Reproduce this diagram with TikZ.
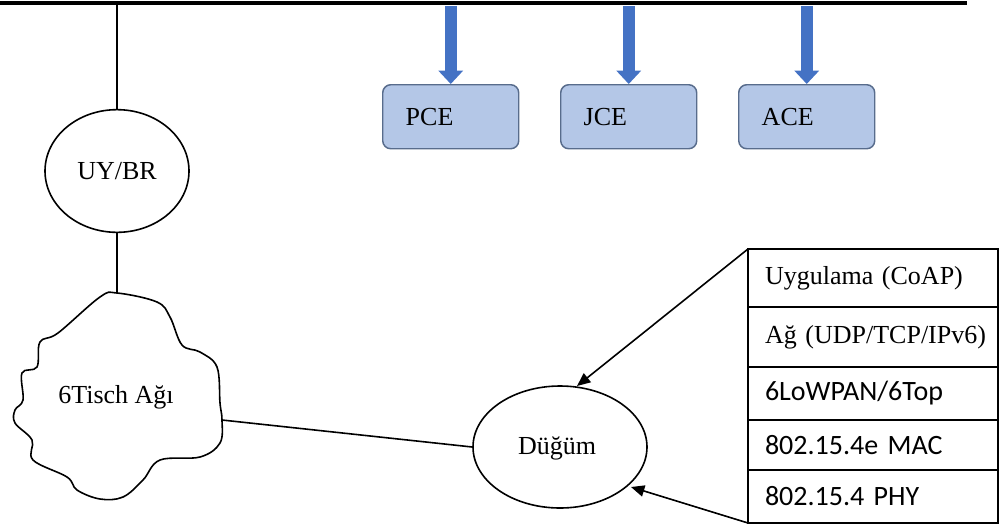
\documentclass[tikz,border=0pt]{standalone}
\usepackage{fontspec}
\setmainfont{Liberation Serif}
\newfontfamily\calfont{Carlito}
\usetikzlibrary{arrows.meta,shapes.geometric}
\definecolor{arrowblue}{RGB}{68,114,196}
\definecolor{boxfill}{RGB}{180,199,231}
\definecolor{boxedge}{RGB}{88,108,140}
\tikzset{
  px/.style={x=0.75pt,y=-0.75pt},
  ser/.style={font=\fontsize{19.5}{22}\selectfont},
  san/.style={font=\calfont\fontsize{21}{24}\selectfont},
  thin/.style={line width=1.2pt},
  oval/.style={ellipse,draw,thin,ser,inner sep=0pt},
  cebox/.style={draw=boxedge,fill=boxfill,line width=1.1pt,rounded corners=6pt,
    minimum height=48pt,text width=67.5pt,inner xsep=17.25pt,align=left,ser,anchor=north west},
  stackrow/.style={draw,line width=1.5pt,text width=162pt,inner xsep=12.75pt,
    align=left,anchor=north west,inner ysep=0pt,outer sep=0pt},
  bluearrow/.style={draw=arrowblue,line width=9pt,-{Triangle[length=10pt,width=18pt]}},
  tiparrow/.style={thin,-{Triangle[length=10pt,width=8.5pt]}}
}
\begin{document}
\begin{tikzpicture}[px]
\useasboundingbox (0,0) rectangle (999,529);
% bus
\coordinate (busL) at (0,3);
\coordinate (busR) at (967,3);
\draw[line width=3pt] (busL) -- (busR);
% CE boxes
\node[cebox] (pce) at (382,84) {PCE};
\node[cebox] (jce) at (560,84) {JCE};
\node[cebox] (ace) at (738,84) {ACE};
\coordinate (busP) at (pce.north |- 0,6);
\coordinate (busJ) at (jce.north |- 0,6);
\coordinate (busA) at (ace.north |- 0,6);
\draw[bluearrow] (busP) -- (pce.north);
\draw[bluearrow] (busJ) -- (jce.north);
\draw[bluearrow] (busA) -- (ace.north);
% UY/BR
\node[oval,minimum width=108pt,minimum height=92pt] (uybr) at (117,171) {UY/BR};
\coordinate (busU) at (uybr.north |- 0,4);
\draw[thin] (busU) -- (uybr.north);
% cloud
\draw[thin] plot[smooth cycle,tension=0.6] coordinates {
 (117,293) (157,302) (170,317) (182,345) (200,352) (217,367) (220,403)
 (222,420) (220,443) (200,457) (160,460) (143,480) (123,497) (100,499)
 (77,490) (67,477) (33,460) (32,440) (15,423) (15,410) (23,400)
 (22,373) (37,367) (40,342) (58,333) (100,297)};
\coordinate (cloudtop) at (117,293);
\coordinate (cloudright) at (222,420);
\node[ser] (cloud) at (116,397) {6Tisch Ağı};
\draw[thin] (uybr.south) -- (cloudtop);
% node
\node[oval,minimum width=130.5pt,minimum height=91.5pt] (dugum) at (560,447) {};
\node[ser] (dugumtext) at (557,448) {Düğüm};
\draw[thin] (cloudright) -- (dugum.west);
% stack
\node[stackrow,minimum height=43.5pt,ser] (r1) at (748,249) {\mbox{Uygulama (CoAP)}};
\node[stackrow,minimum height=45pt,ser] (r2) at (r1.south west) {\mbox{Ağ (UDP/TCP/IPv6)}};
\node[stackrow,minimum height=39.75pt,san] (r3) at (r2.south west) {\mbox{6LoWPAN/6Top}};
\node[stackrow,minimum height=37.5pt,san] (r4) at (r3.south west) {\mbox{802.15.4e MAC}};
\node[stackrow,minimum height=39.75pt,san] (r5) at (r4.south west) {\mbox{802.15.4 PHY}};
\coordinate (tipA) at (577,386);
\coordinate (tipB) at (631,487);
\draw[tiparrow] (r1.north west) -- (tipA);
\draw[tiparrow] (r5.south west) -- (tipB);
\end{tikzpicture}
\end{document}
